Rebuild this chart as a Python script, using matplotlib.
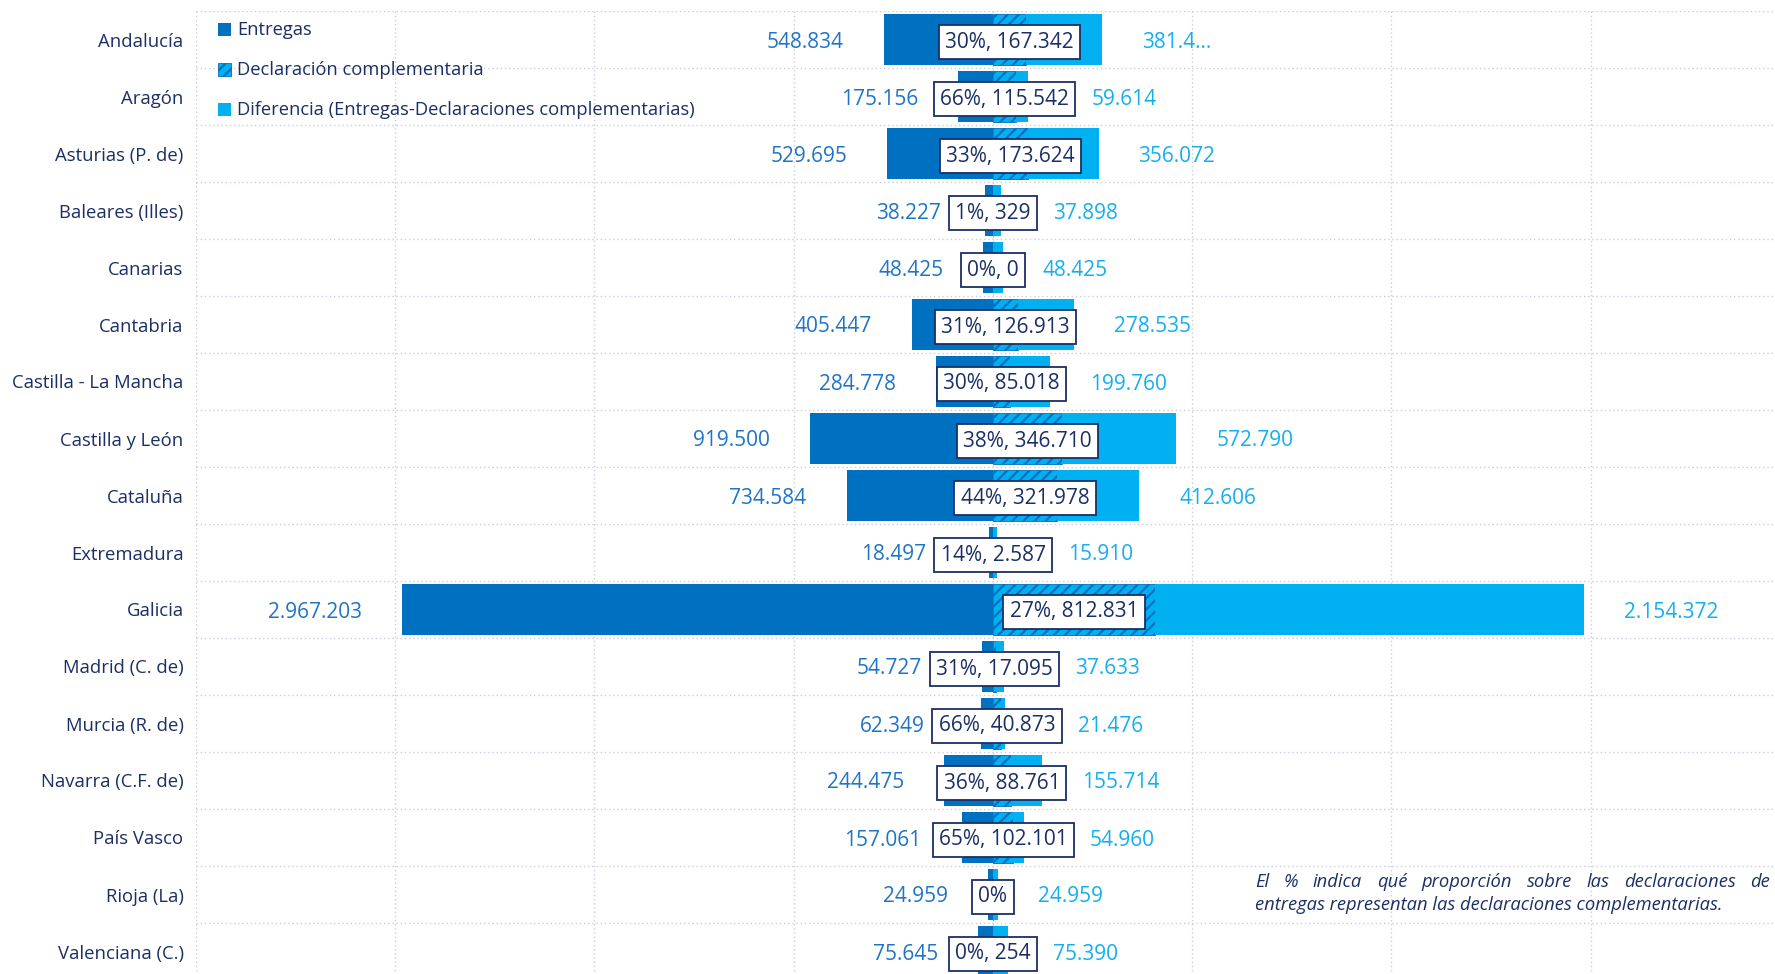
import matplotlib
matplotlib.use("Agg")
import matplotlib.pyplot as plt
from matplotlib.patches import Rectangle

# DATOS
regiones = ["Andalucía", "Aragón", "Asturias (P. de)", "Baleares (Illes)", "Canarias",
            "Cantabria", "Castilla - La Mancha", "Castilla y León", "Cataluña",
            "Extremadura", "Galicia", "Madrid (C. de)", "Murcia (R. de)",
            "Navarra (C.F. de)", "País Vasco", "Rioja (La)", "Valenciana (C.)"]
entregas = [548834, 175156, 529695, 38227, 48425, 405447, 284778, 919500, 734584,
            18497, 2967203, 54727, 62349, 244475, 157061, 24959, 75645]
complementarias = [167342, 115542, 173624, 329, 0, 126913, 85018, 346710, 321978,
                   2587, 812831, 17095, 40873, 88761, 102101, None, 254]
diferencias = [381492, 59614, 356072, 37898, 48425, 278535, 199760, 572790, 412606,
               15910, 2154372, 37633, 21476, 155714, 54960, 24959, 75390]
etiquetas_recortadas = {"Andalucía": "381.4..."}

leyenda = ["Entregas", "Declaración complementaria",
           "Diferencia (Entregas-Declaraciones complementarias)"]
nota_1 = "El % indica qué proporción sobre las declaraciones de"
nota_2 = "entregas representan las declaraciones complementarias."

# ESTILO
AZUL = "#0070C0"
CELESTE = "#00B0F0"
MARINO = "#1B2F66"
TXT_IZQ = "#1F74C4"
TXT_DER = "#14AFEE"
REJILLA = "#C9CCDC"
W, H = 1775, 974
plt.rcParams["font.family"] = ["Open Sans", "DejaVu Sans"]
plt.rcParams["hatch.linewidth"] = 1.6


def fmt(v):
    return f"{v:,}".replace(",", ".")


def px(x, y):
    # pixeles desde arriba-izquierda -> fraccion de figura
    return x / W, 1 - y / H


fig = plt.figure(figsize=(W / 100, H / 100), dpi=100)
ax = fig.add_axes([196 / W, (H - 980) / H, 1 - 196 / W, 969 / H])
ax.set_xlim(-4.0e6, 3.925e6)
ax.set_ylim(len(regiones) - 0.5, -0.5)
for s in ax.spines.values():
    s.set_visible(False)
ax.set_xticks([])
ax.set_yticks(range(len(regiones)))
ax.set_yticklabels(regiones, fontsize=13.3, color=MARINO, va="center_baseline")
ax.tick_params(axis="y", length=0, pad=9)

# rejilla punteada
for gx in range(-4, 4):
    ax.axvline(gx * 1e6, color=REJILLA, lw=1, ls=(0, (1, 2)), zorder=0)
for i in range(len(regiones) + 1):
    ax.axhline(i - 0.5, color=REJILLA, lw=1, ls=(0, (1, 2)), zorder=0)

y = list(range(len(regiones)))
comp = [c if c is not None else 0 for c in complementarias]
alto = 0.88
ax.barh(y, [-e for e in entregas], height=alto, color=AZUL, zorder=2)
ax.barh(y, comp, height=alto, color=CELESTE, edgecolor=AZUL, hatch="///",
        linewidth=0.6, zorder=2)
ax.barh(y, diferencias, left=comp, height=alto, color=CELESTE, zorder=2)

# cajas centrales
cajas = []
for i, (e, c) in enumerate(zip(entregas, complementarias)):
    pct = round((c or 0) / e * 100)
    txt = f"{pct}%" if c is None else f"{pct}%, {fmt(c)}"
    t = ax.text((c or 0) / 2, i, txt, ha="center", va="center_baseline", fontsize=15,
                color=MARINO, zorder=5,
                bbox=dict(boxstyle="square,pad=0.3", fc="white", ec=MARINO, lw=1.3))
    cajas.append(t)

fig.canvas.draw()
r = fig.canvas.get_renderer()
inv = ax.transData.inverted()
for i in y:
    bb = cajas[i].get_bbox_patch().get_window_extent(r)
    xl = ax.transData.transform((-entregas[i], i))[0]
    xl = min(xl - 40, bb.x0 - 8)
    ax.text(inv.transform((xl, 0))[0], i, fmt(entregas[i]), ha="right",
            va="center_baseline", fontsize=15, color=TXT_IZQ, zorder=4)
    xr = ax.transData.transform((comp[i] + diferencias[i], i))[0]
    xr = max(xr + 40, bb.x1 + 16)
    lab = etiquetas_recortadas.get(regiones[i], fmt(diferencias[i]))
    ax.text(inv.transform((xr, 0))[0], i, lab, ha="left",
            va="center_baseline", fontsize=15, color=TXT_DER, zorder=4)

# leyenda
for k, (lab, yy) in enumerate(zip(leyenda, [30, 70, 110])):
    x0, y0 = px(218, yy + 6)
    rect = Rectangle((x0, y0), 13 / W, 13 / H, transform=fig.transFigure,
                     facecolor=CELESTE if k else AZUL,
                     edgecolor=AZUL, hatch="///" if k == 1 else None,
                     linewidth=0.6 if k == 1 else 0)
    fig.patches.append(rect)
    fig.text(*px(237, yy), lab, ha="left", va="center", fontsize=13.2, color=MARINO)

# nota justificada
palabras = nota_1.split()
tx = [fig.text(0, 0, p, fontsize=13.2, style="italic", color=MARINO, va="center")
      for p in palabras]
anchos = [t.get_window_extent(r).width for t in tx]
x_ini, x_fin = 1255, 1770
hueco = (x_fin - x_ini - sum(anchos)) / (len(palabras) - 1)
xc = x_ini
for t, a in zip(tx, anchos):
    t.set_position(px(xc, 882))
    xc += a + hueco
fig.text(*px(x_ini, 905), nota_2, fontsize=13.2, style="italic", color=MARINO,
         va="center")

fig.savefig("out.png", dpi=100)
